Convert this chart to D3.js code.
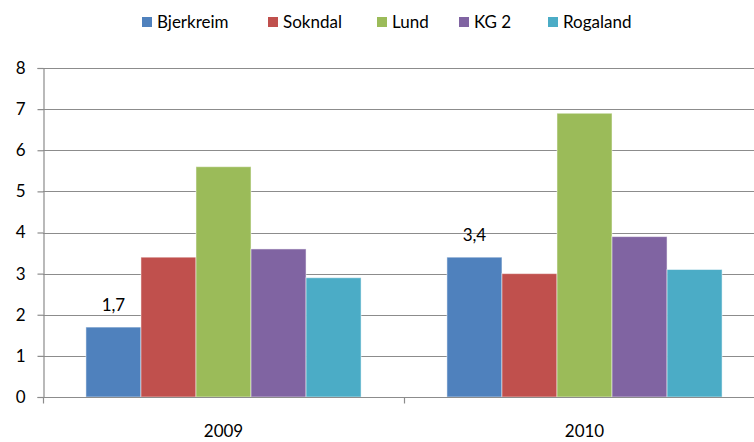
<!DOCTYPE html>
<html>
<head>
<meta charset="UTF-8">
<title></title>
<script src="https://cdn.jsdelivr.net/npm/d3@7"></script>
<style>
  body { margin: 0; background: #fff; }
  text { font-family: Lato, "Open Sans", sans-serif; fill: #000; }
</style>
</head>
<body>
<script>
// data
var years = ["2009", "2010"];
var series = ["Bjerkreim", "Sokndal", "Lund", "KG 2", "Rogaland"];
var colors = ["#4f81bd", "#c0504d", "#9bbb59", "#8064a2", "#4bacc6"];
var values = {
  "Bjerkreim": [1.7, 3.4],
  "Sokndal":   [3.4, 3.0],
  "Lund":      [5.6, 6.9],
  "KG 2":      [3.6, 3.9],
  "Rogaland":  [2.9, 3.1]
};
var yTicks = [0, 1, 2, 3, 4, 5, 6, 7, 8];
// only the Bjerkreim bars carry a label
var labelled = "Bjerkreim";

var width = 754, height = 442;
var margin = {top: 68, right: -11, bottom: 45, left: 43};

var svg = d3.select("body").append("svg")
  .attr("width", width)
  .attr("height", height);

var x0 = d3.scaleBand()
  .domain(years)
  .range([margin.left, width - margin.right]);

var x1 = d3.scaleBand()
  .domain(series)
  .range([0, x0.bandwidth()])
  .paddingOuter(0.78)
  .paddingInner(0);

var y = d3.scaleLinear()
  .domain([0, 8])
  .range([height - margin.bottom, margin.top]);

// gridlines
svg.append("g")
  .selectAll("line")
  .data(yTicks.slice(1))
  .enter().append("line")
  .attr("x1", margin.left)
  .attr("x2", width)
  .attr("y1", function(d){ return Math.round(y(d)) + 0.5; })
  .attr("y2", function(d){ return Math.round(y(d)) + 0.5; })
  .attr("stroke", "#8c8c8c")
  .attr("stroke-width", 1.2);

// bars
var groups = svg.append("g")
  .selectAll("g")
  .data(years)
  .enter().append("g")
  .attr("transform", function(d){ return "translate(" + x0(d) + ",0)"; });

groups.selectAll("rect")
  .data(function(d, i){
    return series.map(function(s, k){ return {s: s, v: values[s][i], c: colors[k]}; });
  })
  .enter().append("rect")
  .attr("x", function(d){ return x1(d.s); })
  .attr("y", function(d){ return y(d.v); })
  .attr("width", x1.bandwidth())
  .attr("height", function(d){ return y(0) - y(d.v); })
  .attr("fill", function(d){ return d.c; })
  .attr("stroke", "#fff")
  .attr("stroke-opacity", 0.5)
  .attr("stroke-width", 1);

// data labels
groups.selectAll("text.lbl")
  .data(function(d, i){ return [{s: labelled, v: values[labelled][i]}]; })
  .enter().append("text")
  .attr("class", "lbl")
  .attr("x", function(d){ return x1(d.s) + x1.bandwidth() / 2; })
  .attr("y", function(d){ return y(d.v) - 16; })
  .attr("text-anchor", "middle")
  .attr("font-size", "17px")
  .text(function(d){ return String(d.v).replace(".", ","); });

// y axis
var yAxis = d3.axisLeft(y).tickValues(yTicks).tickSize(6).tickPadding(12);
var gy = svg.append("g")
  .attr("transform", "translate(" + (margin.left + 0.5) + ",0)")
  .call(yAxis);
gy.select(".domain").attr("stroke", "#8c8c8c").attr("stroke-width", 1.2);
gy.selectAll(".tick line").attr("stroke", "#8c8c8c").attr("stroke-width", 1.2);
gy.selectAll(".tick text").attr("font-size", "17px").attr("font-family", "Lato, sans-serif").attr("fill", "#000");

// x axis
var gx = svg.append("g")
  .attr("transform", "translate(0," + (Math.round(y(0)) + 0.5) + ")");
gx.append("line")
  .attr("x1", margin.left).attr("x2", width)
  .attr("stroke", "#8c8c8c").attr("stroke-width", 1.2);
gx.selectAll("line.tk")
  .data(years.map(function(d){ return x0(d); }).concat([x0(years[1]) + x0.bandwidth()]))
  .enter().append("line")
  .attr("class", "tk")
  .attr("x1", function(d){ return Math.round(d) + 0.5; })
  .attr("x2", function(d){ return Math.round(d) + 0.5; })
  .attr("y1", 0).attr("y2", 6)
  .attr("stroke", "#8c8c8c").attr("stroke-width", 1.2);
gx.selectAll("text")
  .data(years)
  .enter().append("text")
  .attr("x", function(d){ return x0(d) + x0.bandwidth() / 2; })
  .attr("y", 39)
  .attr("text-anchor", "middle")
  .attr("font-size", "17px")
  .text(function(d){ return d; });

// legend
var legendX = [142, 268, 377, 459, 548];
var legend = svg.append("g")
  .selectAll("g")
  .data(series)
  .enter().append("g")
  .attr("transform", function(d, i){ return "translate(" + legendX[i] + ",17)"; });
legend.append("rect")
  .attr("width", 10).attr("height", 10)
  .attr("fill", function(d, i){ return colors[i]; });
legend.append("text")
  .attr("x", 15).attr("y", 11)
  .attr("font-size", "17px")
  .text(function(d){ return d; });
</script>
</body>
</html>
